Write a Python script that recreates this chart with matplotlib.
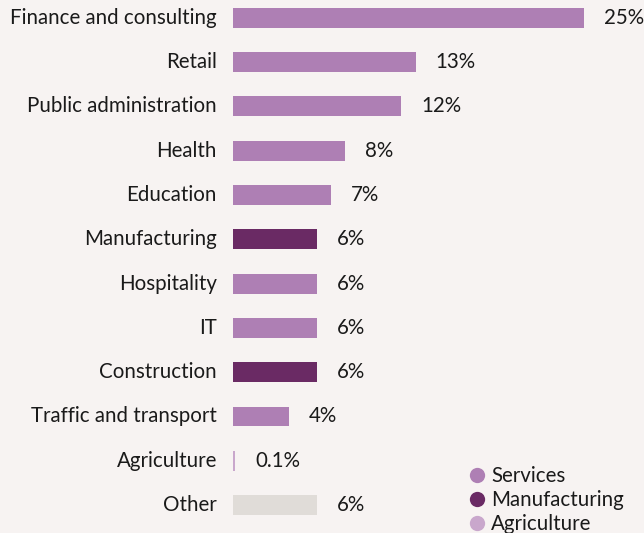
import matplotlib
matplotlib.use("Agg")
import matplotlib.pyplot as plt
from matplotlib.lines import Line2D

plt.rcParams['font.family'] = ['Lato', 'DejaVu Sans']

categories = ["Finance and consulting", "Retail", "Public administration", "Health",
              "Education", "Manufacturing", "Hospitality", "IT", "Construction",
              "Traffic and transport", "Agriculture", "Other"]
shares = [25, 13, 12, 8, 7, 6, 6, 6, 6, 4, 0.1, 6]
value_labels = ["25%", "13%", "12%", "8%", "7%", "6%", "6%", "6%", "6%", "4%", "0.1%", "6%"]
sectors = ["Services", "Services", "Services", "Services", "Services", "Manufacturing",
           "Services", "Services", "Manufacturing", "Services", "Agriculture", "Other"]

palette = {"Services": "#ae7fb4", "Manufacturing": "#6a2a64",
           "Agriculture": "#c9a7cc", "Other": "#e0dcd8"}
bg = "#f7f3f2"
text_color = "#1a1a1a"
fs = 14.8

fig = plt.figure(figsize=(6.44, 5.33), dpi=100, facecolor=bg)
ax = fig.add_axes([233 / 644, 0, 411 / 644, 1])
ax.set_facecolor(bg)

px_per_unit = 351 / 25
ax.set_xlim(0, 411 / px_per_unit)
ax.set_ylim(11.63, -0.40)

ypos = list(range(len(categories)))
widths = [max(v, 0.14) for v in shares]
ax.barh(ypos, widths, height=0.45, color=[palette[s] for s in sectors])

for y, w, cat, lab in zip(ypos, widths, categories, value_labels):
    ax.text(-16 / px_per_unit, y, cat, ha='right', va='center',
            fontsize=fs, color=text_color)
    ax.text(w + 20 / px_per_unit, y, lab, ha='left', va='center',
            fontsize=fs, color=text_color)

for s in ax.spines.values():
    s.set_visible(False)
ax.set_xticks([])
ax.set_yticks([])

handles = [Line2D([0], [0], marker='o', linestyle='', markersize=11,
                  markerfacecolor=palette[k], markeredgecolor='none', label=k)
           for k in ["Services", "Manufacturing", "Agriculture"]]
fig.legend(handles=handles, loc='lower left', bbox_to_anchor=(457 / 644, -0.018),
           frameon=False, fontsize=fs, handletextpad=0.15, labelspacing=0.2,
           handlelength=1.1, borderaxespad=0, labelcolor=text_color)

fig.savefig("out.png", dpi=100, facecolor=bg)
